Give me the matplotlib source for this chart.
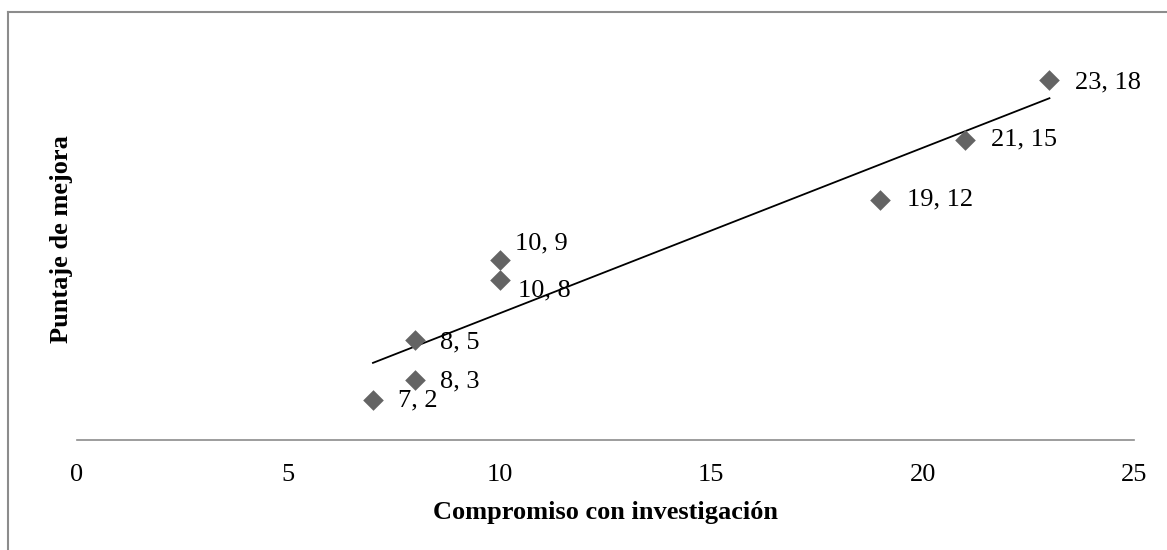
import numpy as np
import matplotlib
matplotlib.use("Agg")
import matplotlib.pyplot as plt
from matplotlib.lines import Line2D

# Data
compromiso = [7, 8, 8, 10, 10, 19, 21, 23]
puntaje = [2, 3, 5, 8, 9, 12, 15, 18]
x_ticks = [0, 5, 10, 15, 20, 25]
x_title = "Compromiso con investigación"
y_title = "Puntaje de mejora"

# label offsets (pixels) per point, style only
offsets = [(25, -1), (25, -2), (25, -3), (18, -11), (15, 16), (27, 0), (26, 0), (26, -3)]

plt.rcParams['font.family'] = ['Liberation Serif', 'DejaVu Serif']

fig = plt.figure(figsize=(11.67, 5.5), dpi=100)
ax = fig.add_axes([77/1167, (550-439.5)/550, (1134-77)/1167, 400/550])

ax.scatter(compromiso, puntaje, marker='D', s=10.5**2, color='#646464', zorder=3, linewidths=0)

# linear trend line
coef = np.polyfit(compromiso, puntaje, 1)
xs = np.array([min(compromiso), max(compromiso)])
ax.plot(xs, np.polyval(coef, xs), color='black', lw=1.3, zorder=2)

for xv, yv, (dx, dy) in zip(compromiso, puntaje, offsets):
    ax.annotate(f"{xv}, {yv}", (xv, yv), xytext=(dx, dy), textcoords='offset pixels',
                ha='left', va='center', fontsize=19, color='black', zorder=4)

ax.set_xlim(0, 25)
ax.set_ylim(0, 20)
ax.set_xticks(x_ticks)
ax.set_xticklabels([str(t) for t in x_ticks], fontsize=19)
ax.set_yticks([])
ax.tick_params(axis='x', length=0, pad=17.5)
for s in ['top', 'right', 'left']:
    ax.spines[s].set_visible(False)
ax.spines['bottom'].set_color('#8c8c8c')
ax.spines['bottom'].set_linewidth(1.2)

ax.set_xlabel(x_title, fontsize=19, fontweight='bold', labelpad=11)
ax.set_ylabel(y_title, fontsize=19, fontweight='bold', labelpad=3)

# outer chart border (left and top visible)
fig.add_artist(Line2D([8/1167, 8/1167], [0, 1 - 12/550], transform=fig.transFigure, color='#8c8c8c', lw=1.5))
fig.add_artist(Line2D([8/1167, 1], [1 - 12/550, 1 - 12/550], transform=fig.transFigure, color='#8c8c8c', lw=1.5))

fig.savefig("out.png", dpi=100, facecolor='white')
